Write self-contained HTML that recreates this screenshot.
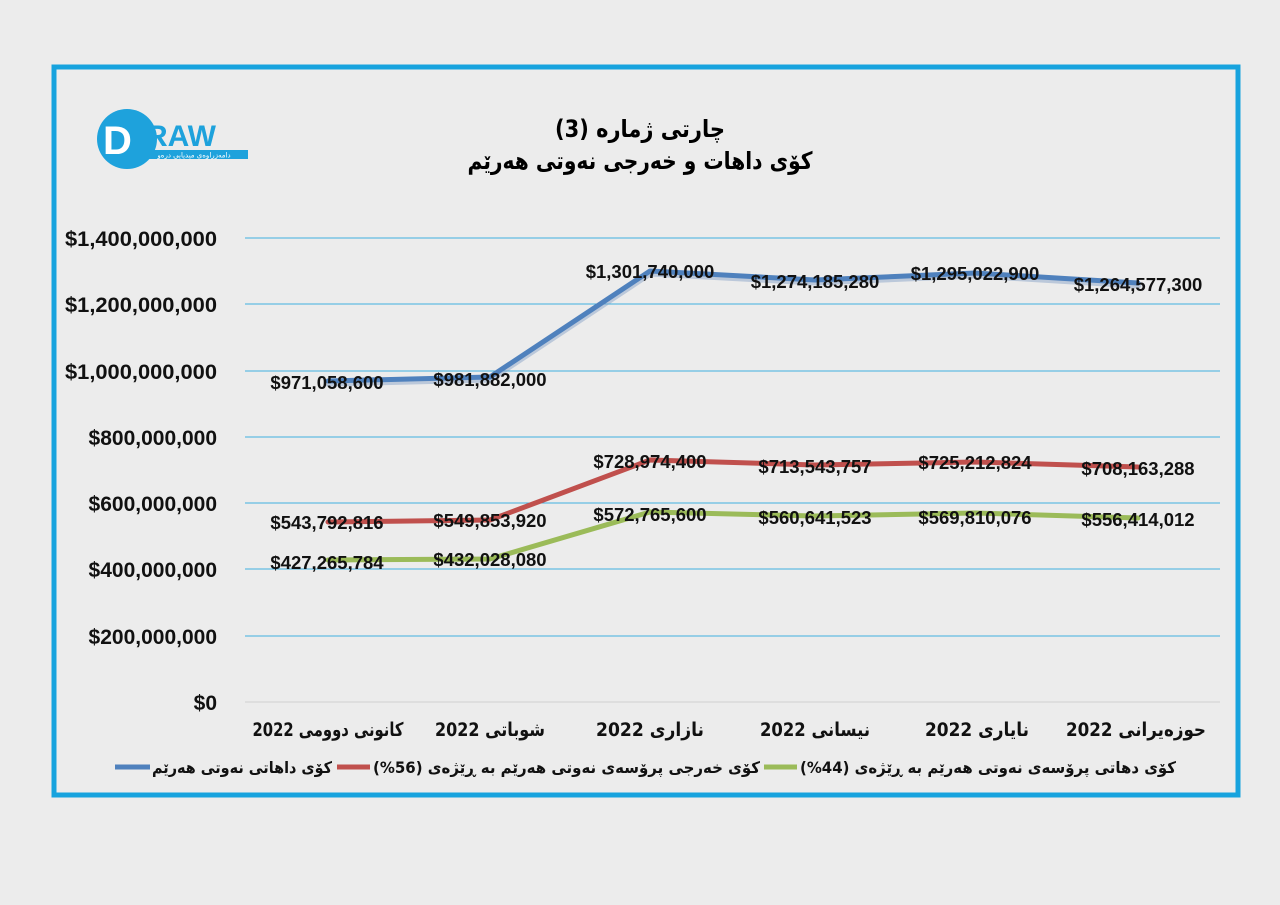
<!DOCTYPE html>
<html><head><meta charset="utf-8"><style>
body{margin:0;background:#ececec;}
svg{display:block;font-family:"Liberation Sans","DejaVu Sans",sans-serif;}
</style></head><body>
<svg width="1280" height="905" viewBox="0 0 1280 905">
<rect width="1280" height="905" fill="#ececec"/>
<rect x="54" y="67" width="1184" height="728" fill="#ececec" stroke="#17a3de" stroke-width="5"/>
<!-- logo -->
<circle cx="127" cy="139" r="30" fill="#1ea2dc"/>
<text x="103" y="154" font-size="40" font-weight="bold" fill="#fff">D</text>
<text x="146" y="146" font-size="30" font-weight="bold" fill="#1ea2dc">RAW</text>
<rect x="140" y="150" width="108" height="9" fill="#1ea2dc"/>
<text x="194" y="157.5" font-size="7" fill="#fff" text-anchor="middle" font-family="DejaVu Sans,sans-serif">دامەزراوەی میدیایی درەو</text>
<!-- title -->
<text x="640" y="137" font-size="24" font-weight="bold" text-anchor="middle" font-family="DejaVu Sans,sans-serif" textLength="170" lengthAdjust="spacingAndGlyphs">چارتی ژمارە (3)</text>
<text x="640" y="169" font-size="24" font-weight="bold" text-anchor="middle" font-family="DejaVu Sans,sans-serif" textLength="345" lengthAdjust="spacingAndGlyphs">کۆی داهات و خەرجی نەوتی هەرێم</text>
<!-- grid -->
<g stroke="#3fb0e0" stroke-width="1">
<line x1="245" y1="238" x2="1220" y2="238"/>
<line x1="245" y1="304" x2="1220" y2="304"/>
<line x1="245" y1="371" x2="1220" y2="371"/>
<line x1="245" y1="437" x2="1220" y2="437"/>
<line x1="245" y1="503" x2="1220" y2="503"/>
<line x1="245" y1="569" x2="1220" y2="569"/>
<line x1="245" y1="636" x2="1220" y2="636"/>
</g>
<line x1="245" y1="702" x2="1220" y2="702" stroke="#cfcfcf" stroke-width="1"/>
<g font-size="21" font-weight="bold" text-anchor="end" fill="#111">
<text x="217" y="246" textLength="152" lengthAdjust="spacingAndGlyphs">$1,400,000,000</text>
<text x="217" y="312" textLength="152" lengthAdjust="spacingAndGlyphs">$1,200,000,000</text>
<text x="217" y="379" textLength="152" lengthAdjust="spacingAndGlyphs">$1,000,000,000</text>
<text x="217" y="445">$800,000,000</text>
<text x="217" y="511">$600,000,000</text>
<text x="217" y="577">$400,000,000</text>
<text x="217" y="644">$200,000,000</text>
<text x="217" y="710">$0</text>
</g>
<!-- series -->
<g fill="none" stroke-width="5" stroke-linejoin="round" stroke-linecap="round">
<polyline points="328,381 490,377 650,271 815,280 975,273 1138,283" stroke="#8aa4c8" stroke-width="7" opacity="0.5" transform="translate(0,2)"/>
<polyline points="328,381 490,377 650,271 815,280 975,273 1138,283" stroke="#4f81bd"/>
<polyline points="328,522 490,520 650,460 815,465 975,462 1138,467" stroke="#c0504d"/>
<polyline points="328,560 490,559 650,512 815,516 975,513 1138,518" stroke="#9bbb59"/>
</g>
<g font-size="18.5" font-weight="bold" text-anchor="middle" fill="#111">
<text x="327" y="389">$971,058,600</text>
<text x="490" y="386">$981,882,000</text>
<text x="650" y="278">$1,301,740,000</text>
<text x="815" y="288">$1,274,185,280</text>
<text x="975" y="280">$1,295,022,900</text>
<text x="1138" y="291">$1,264,577,300</text>
<text x="327" y="529">$543,792,816</text>
<text x="490" y="527">$549,853,920</text>
<text x="650" y="468">$728,974,400</text>
<text x="815" y="473">$713,543,757</text>
<text x="975" y="469">$725,212,824</text>
<text x="1138" y="475">$708,163,288</text>
<text x="327" y="569">$427,265,784</text>
<text x="490" y="566">$432,028,080</text>
<text x="650" y="521">$572,765,600</text>
<text x="815" y="524">$560,641,523</text>
<text x="975" y="524">$569,810,076</text>
<text x="1138" y="526">$556,414,012</text>
</g>
<g font-size="19" font-weight="bold" text-anchor="middle" fill="#111" font-family="DejaVu Sans,sans-serif">
<text x="328" y="736" textLength="151" lengthAdjust="spacingAndGlyphs">کانونی دوومی 2022</text>
<text x="490" y="736" textLength="110" lengthAdjust="spacingAndGlyphs">شوباتی 2022</text>
<text x="650" y="736" textLength="108" lengthAdjust="spacingAndGlyphs">نازاری 2022</text>
<text x="815" y="736" textLength="110" lengthAdjust="spacingAndGlyphs">نیسانی 2022</text>
<text x="977" y="736" textLength="104" lengthAdjust="spacingAndGlyphs">نایاری 2022</text>
<text x="1136" y="736" textLength="140" lengthAdjust="spacingAndGlyphs">حوزەیرانی 2022</text>
</g>
<!-- legend -->
<g font-size="16" font-weight="bold" fill="#111" font-family="DejaVu Sans,sans-serif">
<line x1="115" y1="767" x2="150" y2="767" stroke="#4f81bd" stroke-width="5"/>
<text x="152" y="773" textLength="180" lengthAdjust="spacingAndGlyphs">کۆی داهاتی نەوتی هەرێم</text>
<line x1="337" y1="767" x2="370" y2="767" stroke="#c0504d" stroke-width="5"/>
<text x="373" y="773" textLength="387" lengthAdjust="spacingAndGlyphs">کۆی خەرجی پرۆسەی نەوتی هەرێم بە ڕێژەی (56%)</text>
<line x1="764" y1="767" x2="797" y2="767" stroke="#9bbb59" stroke-width="5"/>
<text x="800" y="773" textLength="376" lengthAdjust="spacingAndGlyphs">کۆی دهاتی پرۆسەی نەوتی هەرێم بە ڕێژەی (44%)</text>
</g>
</svg>
</body></html>
